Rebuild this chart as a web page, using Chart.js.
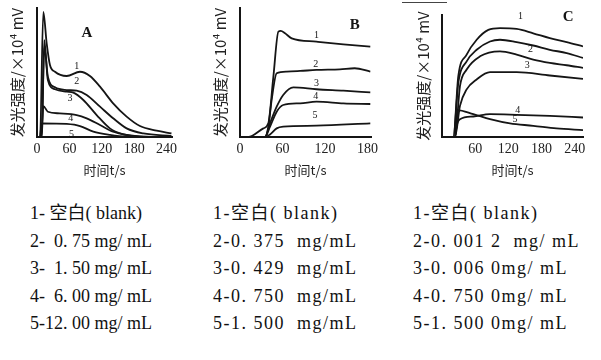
<!DOCTYPE html>
<html>
<head>
<meta charset="UTF-8">
<title>发光强度-时间曲线 A B C</title>
<script src="https://cdn.jsdelivr.net/npm/chart.js@4.4.0/dist/chart.umd.min.js"></script>
<style>
  body { margin: 0; background: #fff; width: 601px; height: 360px; position: relative; overflow: hidden; }
  canvas { position: absolute; top: 0; }
  .leg { position: absolute; top: 200px; font-family: "Liberation Serif", "Times New Roman", "DejaVu Serif", "Noto Sans CJK SC", serif; font-size: 18px; line-height: 27.5px; color: #111; white-space: pre; }
  .wide { letter-spacing: 1.5px; }
  .rule { position: absolute; left: 402px; top: 2px; width: 45px; border-top: 1px solid #444; }
</style>
</head>
<body>
<canvas id="chartA" width="200" height="185" style="left:0px"></canvas>
<canvas id="chartB" width="200" height="185" style="left:200px"></canvas>
<canvas id="chartC" width="201" height="185" style="left:400px"></canvas>
<div class="rule"></div>
<div class="leg" id="leg1" style="left:30px"></div>
<div class="leg wide" id="leg2" style="left:213px"></div>
<div class="leg wide" id="leg3" style="left:413px"></div>
<script>
// panel A : time (s) / intensity (relative)
var tA1 = [0, 5.6, 11.7, 17.9, 24, 33.3, 55, 79.6, 98, 116.7, 141, 166, 190.7, 221.6, 249];
var vA1 = [0, 0, 97, 72.6, 55.8, 50.6, 47.3, 50.6, 47.3, 39, 26.1, 15.8, 8.5, 4.9, 2.8];
var tA2 = [0, 8.6, 13.5, 20.1, 33.3, 55, 73.5, 92, 116.7, 141, 166, 197, 249];
var vA2 = [0, 0, 70, 46.8, 38.5, 36.4, 35.9, 32.6, 23.5, 14.5, 6.7, 2.8, 0.8];
var tA3 = [0, 8.6, 13.5, 20.1, 33.3, 55, 67.3, 85.8, 110.5, 135, 160, 191, 249];
var vA3 = [0, 0, 75, 44.2, 37, 35.1, 34.4, 28.7, 17, 6.7, 2, 0.2, 0];
var tA4 = [0, 8.6, 11.7, 20.1, 42.2, 73.5, 92, 116.7, 141, 166, 197, 249];
var vA4 = [0, 0, 24, 19.6, 18.3, 17, 14.5, 9.3, 4.1, 1.6, 0.3, 0];
var tA5 = [0, 5.6, 8.6, 55, 79.6, 104.3, 135, 166, 249];
var vA5 = [0, 0, 10.6, 10.1, 8.5, 4.1, 1.6, 0.3, 0];

// panel B
var tB1 = [0, 11.8, 33, 40, 47, 54.2, 57.5, 63.6, 73, 108, 146, 184];
var vB1 = [0, 0, 6.7, 10.6, 46, 81.7, 82.2, 80.4, 76.5, 73.9, 71.8, 70];
var tB2 = [0, 35.3, 40, 44.7, 51.8, 66, 85, 108, 141, 162, 184];
var vB2 = [0, 0, 8, 28.7, 49.4, 50.7, 51.2, 52, 52.5, 53.3, 50.7];
var tB3 = [0, 35.3, 42.4, 51.8, 61, 75.3, 108, 146, 184];
var vB3 = [0, 0, 10.6, 23.5, 32.6, 38.5, 37, 35.9, 34.6];
var tB4 = [0, 35.3, 42.4, 51.8, 61, 85, 108, 146, 184];
var vB4 = [0, 0, 8, 19.6, 24.8, 26.1, 27.4, 26.1, 25.6];
var tB5 = [0, 35.3, 42.4, 51.8, 61, 108, 184];
var vB5 = [0, 0, 2, 6.7, 8, 8.8, 10.6];

// panel C (tC6 = the unnumbered curve under 3)
var tC1 = [0, 20.5, 29.5, 44.6, 62.7, 83.8, 104.9, 135, 165, 195, 225.5, 255];
var vC1 = [0, 0, 49.9, 67.5, 79.7, 87.8, 89.2, 88.6, 85, 81, 77.8, 74.3];
var tC2 = [0, 20.5, 29.5, 44.6, 62.7, 86.8, 104.9, 135, 165, 195, 225.5, 255];
var vC2 = [0, 0, 44.4, 62, 71.5, 78.3, 79.7, 77.8, 75, 71.5, 68.8, 64.8];
var tC3 = [0, 23.5, 32.5, 44.6, 68.7, 104.9, 135, 165, 195, 225.5, 255];
var vC3 = [0, 0, 41.7, 55.3, 66.1, 70.2, 67.5, 63.4, 60.7, 58.8, 56.7];
var tC6 = [0, 23.5, 32.5, 44.6, 62.7, 86.8, 135, 195, 255];
var vC6 = [0, 0, 25.5, 39, 47.2, 53.1, 53.1, 50.4, 47.7];
var tC4 = [0, 23.5, 26.5, 32.5, 56.6, 86.8, 135, 195, 255];
var vC4 = [0, 0, 9.2, 14.6, 16.8, 18.7, 18.2, 17.3, 16];
var tC5 = [0, 23.5, 27.7, 56.6, 86.8, 123, 165, 207, 255];
var vC5 = [0, 0, 22, 18.7, 14.6, 11.1, 9.2, 7, 5.7];

var xTicks = [0, 60, 120, 180, 240];

// curve numbers written on the plots, [text, t, v]
var marksA = [["1", 73.5, 54.5], ["2", 73.5, 43.4], ["3", 61, 29.7], ["4", 62.4, 14.5], ["5", 64, 2.3]];
var marksB = [["1", 108, 79], ["2", 107, 56.4], ["3", 108, 41.6], ["4", 107, 31.2], ["5", 106, 17]];
var marksC = [["1", 142, 98.6], ["2", 160, 71.5], ["3", 154, 59], ["4", 137, 22], ["5", 132, 14.6]];

var legend1 = ["1- 空白( blank)", "2-  0. 75 mg/ mL", "3-  1. 50 mg/ mL", "4-  6. 00 mg/ mL", "5-12. 00 mg/ mL"];
var legend2 = ["1-空白( blank)", "2-0. 375  mg/mL", "3-0. 429  mg/mL", "4-0. 750  mg/mL", "5-1. 500  mg/mL"];
var legend3 = ["1-空白( blank)", "2-0. 001 2  mg/ mL", "3-0. 006 0mg/ mL", "4-0. 750 0mg/ mL", "5-1. 500 0mg/ mL"];

document.getElementById("leg1").textContent = legend1.join("\n");
document.getElementById("leg2").textContent = legend2.join("\n");
document.getElementById("leg3").textContent = legend3.join("\n");

function pts(t, v) {
  var out = [];
  for (var i = 0; i < t.length; i++) out.push({x: t[i], y: v[i]});
  return out;
}

var ink = "#151515";
var serif = "'Liberation Serif', 'Times New Roman', 'DejaVu Serif', serif";

var marksPlugin = {
  id: "marks",
  afterDatasetsDraw: function(chart, args, opts) {
    var ctx = chart.ctx, xs = chart.scales.x, ys = chart.scales.y;
    ctx.save();
    ctx.fillStyle = ink;
    ctx.textAlign = "center";
    ctx.textBaseline = "middle";
    ctx.font = "10px " + serif;
    opts.marks.forEach(function(m) {
      ctx.fillText(m[0], xs.getPixelForValue(m[1]), ys.getPixelForValue(m[2]));
    });
    ctx.font = "bold 15px " + serif;
    ctx.fillText(opts.letter[0], xs.getPixelForValue(opts.letter[1]), ys.getPixelForValue(opts.letter[2]));
    ctx.restore();
  }
};

function makeChart(id, series, xmax, pad, yw, ytPad, hideZero, marks, letter) {
  var sets = series.map(function(s) {
    return {
      data: pts(s[0], s[1]),
      borderColor: ink,
      borderWidth: 1.8,
      pointRadius: 0,
      fill: false,
      cubicInterpolationMode: "monotone"
    };
  });
  var ticksHere = xTicks.filter(function(v) { return v <= xmax; });
  return new Chart(document.getElementById(id), {
    type: "line",
    data: { datasets: sets },
    plugins: [marksPlugin],
    options: {
      responsive: false,
      animation: false,
      layout: { padding: pad },
      plugins: {
        legend: { display: false },
        tooltip: { enabled: false },
        marks: { marks: marks, letter: letter }
      },
      scales: {
        x: {
          type: "linear",
          min: 0,
          max: xmax,
          afterFit: function(s) { s.height = 48; },
          afterBuildTicks: function(s) { s.ticks = ticksHere.map(function(v) { return {value: v}; }); },
          grid: { display: false, drawTicks: false },
          border: { display: true, color: ink, width: 2 },
          ticks: {
            autoSkip: false, maxRotation: 0, padding: 4, color: "#222",
            font: { family: serif, size: 14 },
            callback: function(v) { return (hideZero && v === 0) ? "" : String(v); }
          },
          title: {
            display: true, text: "时间t/s", color: "#222",
            font: { family: "'Noto Sans CJK SC'", size: 13 },
            padding: { top: 0, bottom: 7 }
          }
        },
        y: {
          min: 0,
          max: 100,
          afterFit: function(s) { s.width = yw; },
          grid: { display: false, drawTicks: false },
          border: { display: true, color: ink, width: 2 },
          ticks: { display: false },
          title: {
            display: true, text: "发光强度/×10⁴ mV", color: "#222",
            font: { family: "'Noto Sans CJK SC'", size: 15 },
            padding: { top: ytPad, bottom: 0 }
          }
        }
      }
    }
  });
}

makeChart("chartA",
  [[tA1, vA1], [tA2, vA2], [tA3, vA3], [tA4, vA4], [tA5, vA5]],
  250, { left: 0, top: 8, right: 28, bottom: 0 }, 37, 8, false, marksA, ["A", 92.6, 80.6]);

makeChart("chartB",
  [[tB1, vB1], [tB2, vB2], [tB3, vB3], [tB4, vB4], [tB5, vB5]],
  185, { left: 0, top: 8, right: 29, bottom: 0 }, 40, 11, false, marksB, ["B", 162, 86.8]);

makeChart("chartC",
  [[tC1, vC1], [tC2, vC2], [tC3, vC3], [tC6, vC6], [tC4, vC4], [tC5, vC5]],
  255, { left: 0, top: 15, right: 18, bottom: 0 }, 42, 14, true, marksC, ["C", 228, 98.4]);
</script>
</body>
</html>
